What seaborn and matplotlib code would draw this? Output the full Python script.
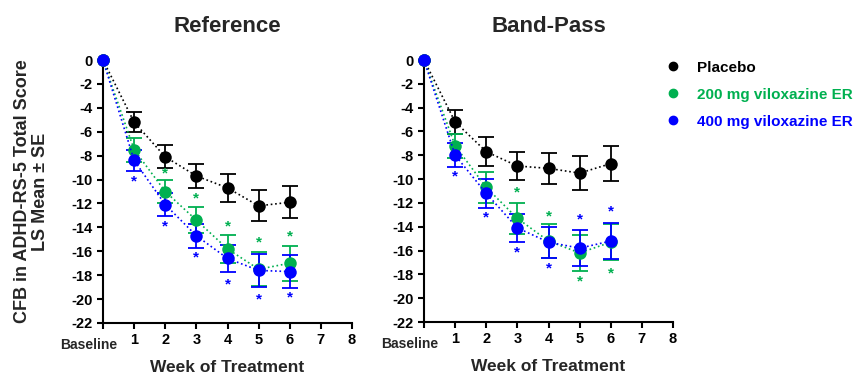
import numpy as np
import pandas as pd
import matplotlib
matplotlib.use("Agg")
import matplotlib.pyplot as plt
import seaborn as sns
from matplotlib.lines import Line2D

sns.set_style("ticks")
plt.rcParams['font.family'] = ['Liberation Sans', 'DejaVu Sans']
plt.rcParams['axes.unicode_minus'] = False

weeks = [0, 1, 2, 3, 4, 5, 6]
groups = ["Placebo", "200 mg viloxazine ER", "400 mg viloxazine ER"]
colors = ["#000000", "#00B050", "#0000FF"]

# Reference panel
ref_mean = {
    "Placebo": [0, -5.2, -8.1, -9.7, -10.7, -12.2, -11.9],
    "200 mg viloxazine ER": [0, -7.5, -11.0, -13.4, -15.8, -17.5, -17.0],
    "400 mg viloxazine ER": [0, -8.4, -12.1, -14.7, -16.6, -17.6, -17.7],
}
ref_se = {
    "Placebo": [0, 0.85, 0.95, 1.0, 1.15, 1.3, 1.35],
    "200 mg viloxazine ER": [0, 1.0, 1.0, 1.1, 1.2, 1.4, 1.45],
    "400 mg viloxazine ER": [0, 0.85, 0.95, 1.0, 1.1, 1.35, 1.4],
}
ref_star = {
    "200 mg viloxazine ER": ([2, 3, 4, 5, 6], [-9.5, -11.6, -13.9, -15.3, -14.8]),
    "400 mg viloxazine ER": ([1, 2, 3, 4, 5, 6], [-10.2, -13.9, -16.5, -18.8, -20.0, -19.9]),
}

# Band-Pass panel
bp_mean = {
    "Placebo": [0, -5.2, -7.7, -8.9, -9.1, -9.5, -8.7],
    "200 mg viloxazine ER": [0, -7.2, -10.7, -13.3, -15.2, -16.2, -15.3],
    "400 mg viloxazine ER": [0, -8.0, -11.2, -14.1, -15.3, -15.8, -15.2],
}
bp_se = {
    "Placebo": [0, 1.0, 1.2, 1.2, 1.3, 1.45, 1.45],
    "200 mg viloxazine ER": [0, 1.0, 1.3, 1.3, 1.4, 1.5, 1.5],
    "400 mg viloxazine ER": [0, 1.0, 1.2, 1.2, 1.3, 1.5, 1.5],
}
bp_star = {
    "200 mg viloxazine ER": ([3, 4, 5, 6], [-11.1, -13.1, -18.6, -17.9]),
    "400 mg viloxazine ER": ([1, 2, 3, 4, 5, 6], [-9.8, -13.2, -16.2, -17.5, -13.4, -12.7]),
}

xtick_labels = ["Baseline", "1", "2", "3", "4", "5", "6", "7", "8"]


def draw_panel(ax, means, ses, stars, title):
    rows = []
    for g in groups:
        for w, m in zip(weeks, means[g]):
            rows.append({"week": w, "value": m, "group": g})
    df = pd.DataFrame(rows)
    for g, c in zip(groups, colors):
        ax.errorbar(weeks[1:], means[g][1:], yerr=ses[g][1:], fmt="none",
                    ecolor=c, elinewidth=1.3, capsize=5.5, capthick=1.3, zorder=2)
    sns.lineplot(data=df, x="week", y="value", hue="group", palette=colors,
                 hue_order=groups, marker="o", markersize=9, markeredgewidth=0,
                 linestyle=":", linewidth=1.2, legend=False, ax=ax, zorder=3)
    for g, c in zip(groups, colors):
        if g in stars:
            xs, ys = stars[g]
            for x, y in zip(xs, ys):
                ax.text(x, y, "*", color=c, ha="center", va="center",
                        fontsize=11, fontweight="bold")
    ax.set_xlim(0, 8)
    ax.set_ylim(-22, 0)
    ax.set_xticks(range(9))
    ax.set_xticklabels([""] + xtick_labels[1:], fontsize=10.5, fontweight="bold")
    ax.annotate(xtick_labels[0], xy=(0, 0), xycoords=("data", "axes fraction"),
                xytext=(-10, -10.5), textcoords="offset points", ha="center", va="top",
                fontsize=10, fontweight="bold")
    ax.set_yticks(range(0, -23, -2))
    ax.set_yticklabels([str(v) for v in range(0, -23, -2)], fontsize=10.5, fontweight="bold")
    ax.set_xlabel("Week of Treatment", fontsize=12.5, fontweight="bold", labelpad=9)
    ax.set_ylabel("")
    ax.set_title(title, fontsize=16, fontweight="bold", pad=20)
    for s in ["top", "right"]:
        ax.spines[s].set_visible(False)
    for s in ["left", "bottom"]:
        ax.spines[s].set_linewidth(1.5)
        ax.spines[s].set_color("black")
    ax.tick_params(width=1.5, length=4, colors="black")
    for art in ax.get_children():
        try:
            art.set_clip_on(False)
        except Exception:
            pass


fig = plt.figure(figsize=(8.67, 3.8), dpi=100)
ax1 = fig.add_axes([103 / 867, 57 / 380, 249 / 867, 263 / 380])
ax2 = fig.add_axes([424 / 867, 58 / 380, 249 / 867, 262 / 380])

draw_panel(ax1, ref_mean, ref_se, ref_star, "Reference")
draw_panel(ax2, bp_mean, bp_se, bp_star, "Band-Pass")

ax1.set_ylabel("CFB in ADHD-RS-5 Total Score\nLS Mean \u00b1 SE", fontsize=13,
               fontweight="bold", linespacing=1.1)
ax1.yaxis.set_label_coords(-0.215, 0.5)

handles = [Line2D([0], [0], marker="o", color=c, linestyle="none", markersize=6)
           for c in colors]
leg = fig.legend(handles, groups, loc="upper left", bbox_to_anchor=(644 / 867, 1 - 47 / 380),
                 frameon=False, handletextpad=0.6, labelspacing=0.85,
                 prop={"weight": "bold", "size": 11})
for t, c in zip(leg.get_texts(), colors):
    t.set_color(c)

plt.savefig("out.png", dpi=100)
